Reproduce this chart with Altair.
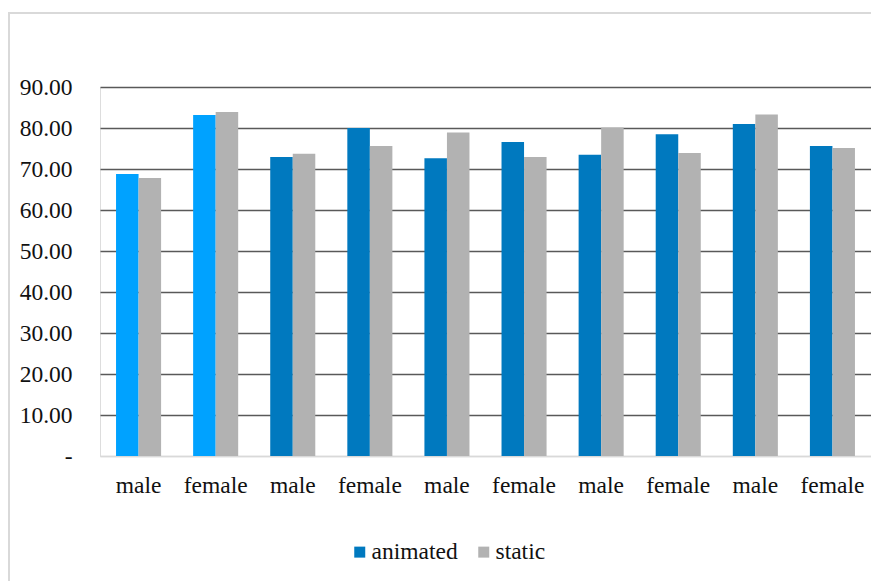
import altair as alt
import pandas as pd

labels = ["male", "female", "male", "female", "male", "female", "male", "female", "male", "female"]
animated = [68.8, 83.2, 72.9, 80.0, 72.6, 76.6, 73.5, 78.5, 81.0, 75.6]
static = [67.8, 83.9, 73.7, 75.6, 78.9, 72.9, 80.1, 73.9, 83.3, 75.1]
highlighted = [0, 1]  # first two animated bars drawn in light blue

rows = []
for i, lab in enumerate(labels):
    rows.append({"slot": i, "series": "animated",
                 "key": "animated_hl" if i in highlighted else "animated",
                 "value": animated[i]})
    rows.append({"slot": i, "series": "static", "key": "static", "value": static[i]})
df = pd.DataFrame(rows)

FONT = "'Liberation Serif', 'Times New Roman', Times, serif"
label_expr = "[" + ",".join("'" + l + "'" for l in labels) + "][datum.value]"

bars = alt.Chart(df).mark_bar().encode(
    x=alt.X("slot:O", sort=None,
            scale=alt.Scale(paddingInner=0.4156, paddingOuter=0.208),
            axis=alt.Axis(title=None, labelExpr=label_expr, labelAngle=0,
                          labelFont=FONT, labelFontSize=23.5, labelColor="#111111",
                          labelPadding=17, ticks=False, domain=True,
                          domainColor="#D9D9D9", domainWidth=1.5, grid=False)),
    xOffset=alt.XOffset("series:N", scale=alt.Scale(paddingInner=0, paddingOuter=0)),
    y=alt.Y("value:Q", scale=alt.Scale(domain=[0, 90], nice=False),
            axis=alt.Axis(title=None, values=[0, 10, 20, 30, 40, 50, 60, 70, 80, 90],
                          labelExpr="datum.value == 0 ? '-\u00a0\u00a0' : format(datum.value, '.2f')",
                          labelFont=FONT, labelFontSize=23.5, labelColor="#111111",
                          labelPadding=28, ticks=False, domain=False,
                          gridColor={"condition": {"test": "datum.value == 0", "value": "#D9D9D9"},
                                     "value": "#595959"},
                          gridWidth=1.5)),
    color=alt.Color("key:N",
                    scale=alt.Scale(domain=["animated", "static", "animated_hl"],
                                    range=["#0079BF", "#B2B2B2", "#00A2FF"]),
                    legend=alt.Legend(title=None, values=["animated", "static"],
                                      orient="none", direction="horizontal",
                                      legendX=248, legendY=453, padding=0,
                                      symbolType="square", symbolSize=121,
                                      symbolStrokeWidth=0, labelFont=FONT,
                                      labelFontSize=23.5, labelColor="#111111",
                                      labelOffset=0, columnPadding=14)),
)

frame_df = pd.DataFrame({"a": [0]})
left_border = alt.Chart(frame_df).mark_rule(color="#D9D9D9", strokeWidth=2).encode(
    x=alt.value(-91), y=alt.value(-74), y2=alt.value(500))
top_border = alt.Chart(frame_df).mark_rule(color="#D9D9D9", strokeWidth=2).encode(
    x=alt.value(-92), x2=alt.value(780), y=alt.value(-74))

chart = alt.layer(bars, left_border, top_border).properties(
    width=771, height=369,
    autosize="none",
    padding={"left": 100, "top": 87, "right": 0, "bottom": 125},
).configure_view(stroke=None).configure(font=FONT, background="white")

chart.save("out.html", embed_options={"renderer": "svg", "actions": False})
